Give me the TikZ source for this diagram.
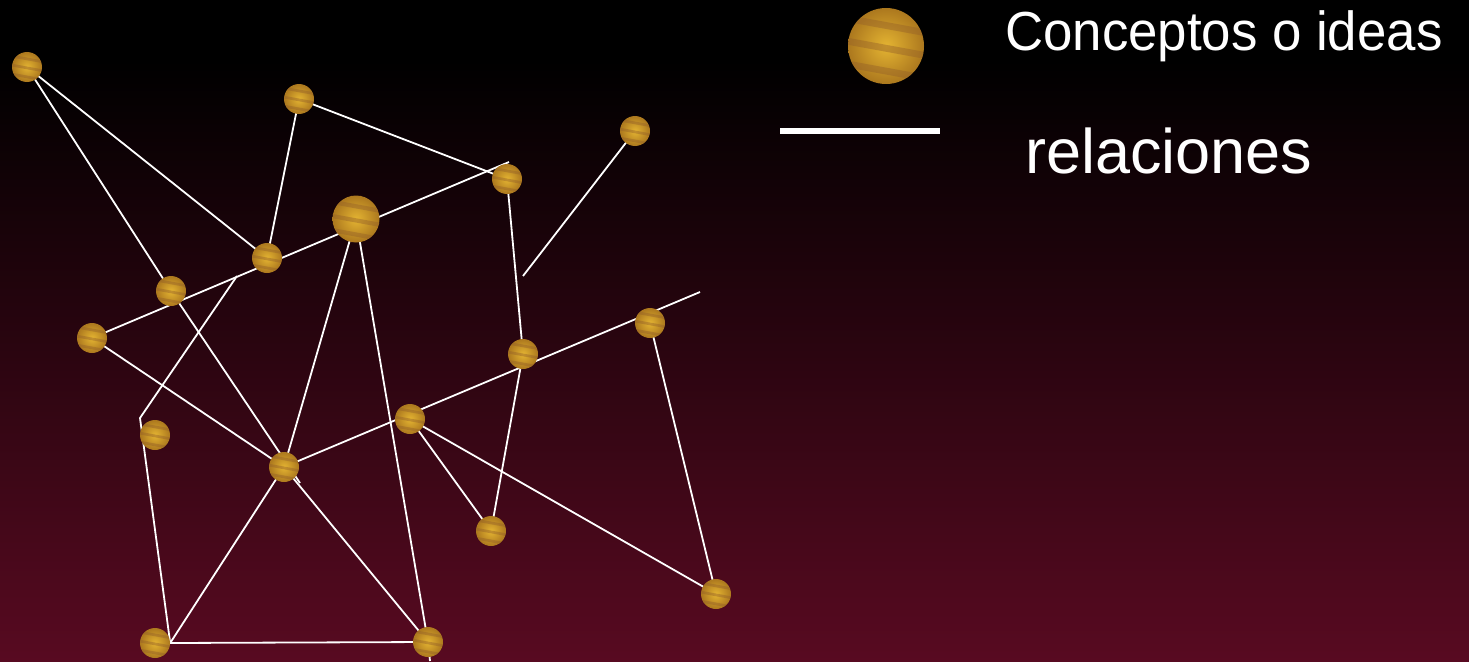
\documentclass[tikz,border=0pt]{standalone}
\usepackage{fontspec}
\setmainfont{Liberation Sans}
\newfontfamily\narrowfont[FakeStretch=0.96]{Liberation Sans}
\definecolor{wine}{RGB}{88,10,33}
\definecolor{goldin}{RGB}{228,180,50}
\definecolor{goldout}{RGB}{172,120,30}
\definecolor{goldband}{RGB}{150,98,40}
\pgfdeclarelayer{bg}
\pgfdeclarelayer{edges}
\pgfsetlayers{bg,edges,main}

\begin{document}
\begin{tikzpicture}[x=1pt, y=-1pt,
    concept/.style={circle, minimum size=#1pt, inner sep=0pt, inner color=goldin, outer color=goldout,
      path picture={
        \foreach \dy in {-0.28,0.02,0.32}
          \draw[goldband, opacity=.45, line width=0.09*#1pt]
            ([shift={(-0.6*#1,\dy*#1-0.1*#1)}]path picture bounding box.center)
            -- ([shift={(0.6*#1,\dy*#1+0.12*#1)}]path picture bounding box.center);}},
    concept/.default=30,
    rel/.style={white, line width=1.8pt}]
    \useasboundingbox (0,0) rectangle (1469,661);
    % background
    \begin{pgfonlayer}{bg}
      \fill[black] (0,0) rectangle (1469,62);
      \shade[top color=black, bottom color=wine] (0,60) rectangle (1469,661);
    \end{pgfonlayer}
    % concepts
    \node [concept] (a) at (27,67) {};
    \node [concept] (b) at (299,99) {};
    \node [concept] (c) at (635,131) {};
    \node [concept] (d) at (507,179) {};
    \node [concept=47] (e) at (356,219) {};
    \node [concept] (f) at (267,258) {};
    \node [concept] (g) at (171,291) {};
    \node [concept] (h) at (92,338) {};
    \node [concept] (i) at (650,323) {};
    \node [concept] (j) at (523,354) {};
    \node [concept] (k) at (410,419) {};
    \node [concept] (l) at (155,435) {};
    \node [concept] (m) at (284,467) {};
    \node [concept] (n) at (491,531) {};
    \node [concept] (o) at (716,594) {};
    \node [concept] (p) at (155,643) {};
    \node [concept] (q) at (428,642) {};
    \coordinate (dtop) at (509,162);
    \coordinate (cend) at (523,276);
    \coordinate (iend) at (700,292);
    \coordinate (gfk) at (237,276);
    \coordinate (lbend) at (140,418);
    \coordinate (mend) at (300,483);
    \coordinate (qend) at (430,661);
    % relations
    \begin{pgfonlayer}{edges}
      \draw [rel] (a.center) -- (g.center);
      \draw [rel] (a.center) -- (f.center);
      \draw [rel] (b.center) -- (f.center);
      \draw [rel] (b.center) -- (d.center);
      \draw [rel] (h.center) -- (dtop);
      \draw [rel] (d.center) -- (j.center) -- (n.center);
      \draw [rel] (c.center) -- (cend);
      \draw [rel] (m.center) -- (iend);
      \draw [rel] (i.center) -- (o.center);
      \draw [rel] (k.center) -- (n.center);
      \draw [rel] (k.center) -- (o.center);
      \draw [rel] (m.center) -- (e.center);
      \draw [rel] (e.center) -- (q.center) -- (qend);
      \draw [rel] (g.center) -- (mend);
      \draw [rel] (m.center) -- (q.center);
      \draw [rel] (h.center) -- (m.center);
      \draw [rel] (gfk) -- (lbend) -- (p.east) -- (q.center);
      \draw [rel] (p.east) -- (m.center);
    \end{pgfonlayer}
    % legend
    \node [concept=76] (legball) at (886,46) {};
    \coordinate (legl) at (780,131);
    \coordinate (legr) at (940,131);
    \draw [white, line width=6pt] (legl) -- (legr);
    \node [anchor=base west, inner sep=0pt, white, font=\narrowfont\fontsize{55}{60}\selectfont] (legconc) at (1005,51) {Conceptos o ideas};
    \node [anchor=base west, inner sep=0pt, white, font=\fontsize{63}{70}\selectfont] (legrel) at (1025,173) {relaciones};
  \end{tikzpicture}
\end{document}
